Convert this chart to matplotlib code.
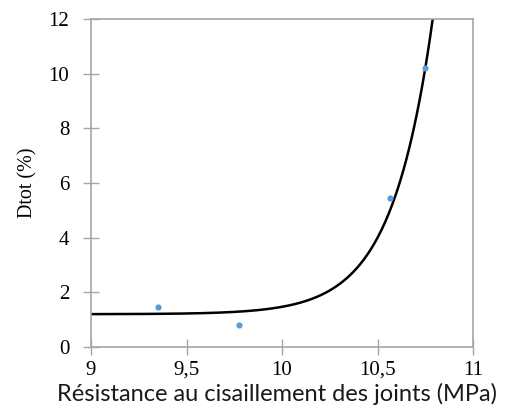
import numpy as np
import matplotlib
matplotlib.use("Agg")
import matplotlib.pyplot as plt

# Data points (shear strength MPa, Dtot %)
x_points = [9.35, 9.775, 10.565, 10.75]
y_points = [1.45, 0.80, 5.45, 10.22]

# Trend curve parameters: y = base + amp * exp(rate * (x - x_ref))
trend_base = 1.2
trend_amp = 0.27
trend_rate = 4.675
trend_ref = 10.0

x_ticks = [9, 9.5, 10, 10.5, 11]
x_ticklabels = ["9", "9,5", "10", "10,5", "11"]
y_ticks = [0, 2, 4, 6, 8, 10, 12]
y_ticklabels = ["0", "2", "4", "6", "8", "10", "12"]

fig = plt.figure(figsize=(5.08, 4.07), dpi=100)
ax = fig.add_axes([91/508, 1-347/407, (473-91)/508, (347-19)/407])

xc = np.linspace(9.0, 10.85, 400)
yc = trend_base + trend_amp * np.exp(trend_rate * (xc - trend_ref))
ax.plot(xc, yc, color="black", lw=1.8, zorder=2)
ax.scatter(x_points, y_points, s=20, color="#5B9BD5", zorder=3, linewidths=0)

ax.set_xlim(9, 11)
ax.set_ylim(0, 12)
ax.set_xticks(x_ticks)
ax.set_xticklabels(x_ticklabels)
ax.set_yticks(y_ticks)
ax.set_yticklabels(y_ticklabels)

for s in ax.spines.values():
    s.set_color("#A6A6A6")
    s.set_linewidth(1.2)

ax.tick_params(direction="inout", length=11.5, width=1.0, color="#A6A6A6",
               labelsize=15)
ax.tick_params(axis="y", pad=10)
ax.tick_params(axis="x", pad=4)
for lab in ax.get_xticklabels() + ax.get_yticklabels():
    lab.set_fontfamily("Liberation Serif")
    lab.set_color("black")

ax.set_ylabel("Dtot (%)", family="Liberation Serif", fontsize=14.5)
ax.yaxis.set_label_coords(-0.14, 0.5)
ax.set_xlabel("Résistance au cisaillement des joints (MPa)", family="Lato",
              fontsize=17, color="#1a1a1a")
ax.xaxis.set_label_coords(0.486, -0.108)

fig.savefig("out.png", dpi=100)
